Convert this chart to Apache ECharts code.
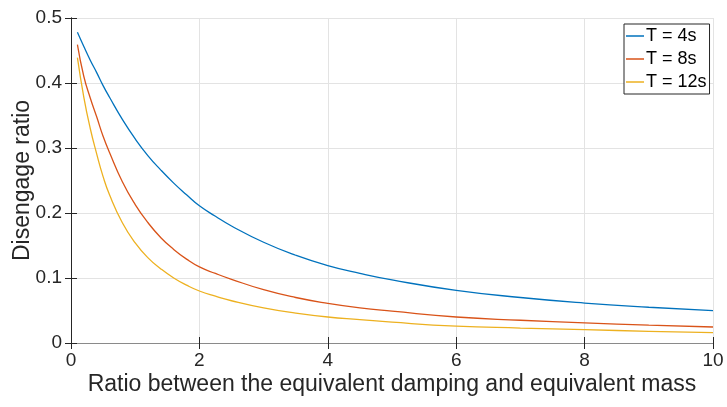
<!DOCTYPE html>
<html>
<head>
<meta charset="utf-8">
<script src="https://cdn.jsdelivr.net/npm/echarts@6/dist/echarts.min.js"></script>
<style>
html,body{margin:0;padding:0;background:#fff;}
#chart{width:727px;height:407px;}
</style>
</head>
<body>
<div id="chart"></div>
<script>
var xValues = [0.1,0.2,0.3,0.4,0.5,0.6,0.8,1.0,1.2,1.4,1.6,1.8,2.0,2.25,2.5,3.0,3.5,4.0,4.5,5.0,6.0,7.0,8.0,9.0,10];
var t4 = [0.478,0.456,0.435,0.416,0.396,0.378,0.344,0.314,0.288,0.266,0.246,0.228,0.211,0.195,0.180,0.155,0.135,0.119,0.107,0.097,0.081,0.070,0.0615,0.055,0.0497];
var t8 = [0.459,0.410,0.377,0.348,0.318,0.293,0.248,0.213,0.185,0.162,0.144,0.129,0.117,0.107,0.098,0.082,0.070,0.061,0.054,0.049,0.040,0.035,0.031,0.0275,0.0246];
var t12 = [0.439,0.378,0.330,0.291,0.256,0.228,0.185,0.154,0.131,0.114,0.100,0.089,0.080,0.072,0.065,0.054,0.046,0.040,0.036,0.032,0.026,0.023,0.0205,0.018,0.016];
var seriesNames = ['T = 4s','T = 8s','T = 12s'];
var colors = ['#0072BD','#D95319','#EDB120'];
var xLabel = 'Ratio between the equivalent damping and equivalent mass';
var yLabel = 'Disengage ratio';

function pairs(ys){ return xValues.map(function(x,i){ return [x, ys[i]]; }); }
var all = [t4,t8,t12];

var FONT = 'Liberation Sans';
var TXT = '#262626';
var chart = echarts.init(document.getElementById('chart'));
chart.setOption({
  animation:false,
  textStyle:{fontFamily:FONT,color:TXT},
  grid:{left:71,right:14,top:18,bottom:64,containLabel:false,outerBoundsMode:'none'},
  legend:{
    orient:'vertical', left:624, top:24,
    data:seriesNames,
    icon:'rect', itemWidth:18, itemHeight:1.5, itemGap:5,
    textStyle:{fontFamily:FONT,fontSize:18,color:'#000',padding:[0,0,0,-3]},
    backgroundColor:'#fff', borderColor:'#262626', borderWidth:1,
    padding:[3,3,3,2]
  },
  xAxis:[{
    type:'value', min:0, max:10, interval:2, position:'bottom',
    name:xLabel, nameLocation:'middle', nameGap:30, nameMoveOverlap:false,
    nameTextStyle:{fontFamily:FONT,fontSize:23,color:TXT},
    axisLine:{lineStyle:{color:'#8a8a8a',width:1}},
    axisTick:{inside:true,length:6,lineStyle:{color:TXT}},
    axisLabel:{fontFamily:FONT,fontSize:19,color:TXT,margin:8},
    splitLine:{show:true,lineStyle:{color:'#e3e3e3',width:1}}
  },{
    type:'value', min:0, max:10, interval:2, position:'top',
    axisLine:{show:true,lineStyle:{color:'#8a8a8a',width:1}},
    axisTick:{show:true,inside:true,length:6,lineStyle:{color:TXT}},
    axisLabel:{show:false}, splitLine:{show:false}
  }],
  yAxis:[{
    type:'value', min:0, max:0.5, interval:0.1, position:'left',
    name:yLabel, nameLocation:'middle', nameGap:37, nameMoveOverlap:false,
    nameTextStyle:{fontFamily:FONT,fontSize:23,color:TXT},
    axisLine:{show:true,lineStyle:{color:TXT,width:1}},
    axisTick:{show:true,inside:true,length:6,lineStyle:{color:TXT}},
    axisLabel:{fontFamily:FONT,fontSize:19,color:TXT,margin:9},
    splitLine:{show:true,lineStyle:{color:'#e3e3e3',width:1}}
  },{
    type:'value', min:0, max:0.5, interval:0.1, position:'right',
    axisLine:{show:true,lineStyle:{color:TXT,width:1}},
    axisTick:{show:true,inside:true,length:6,lineStyle:{color:TXT}},
    axisLabel:{show:false}, splitLine:{show:false}
  }],
  series: seriesNames.map(function(n,i){
    return {
      name:n, type:'line', xAxisIndex:0, yAxisIndex:0,
      data:pairs(all[i]), showSymbol:false, symbol:'none',
      smooth:0.5,
      lineStyle:{color:colors[i],width:1.3},
      itemStyle:{color:colors[i]}
    };
  })
});
</script>
</body>
</html>
